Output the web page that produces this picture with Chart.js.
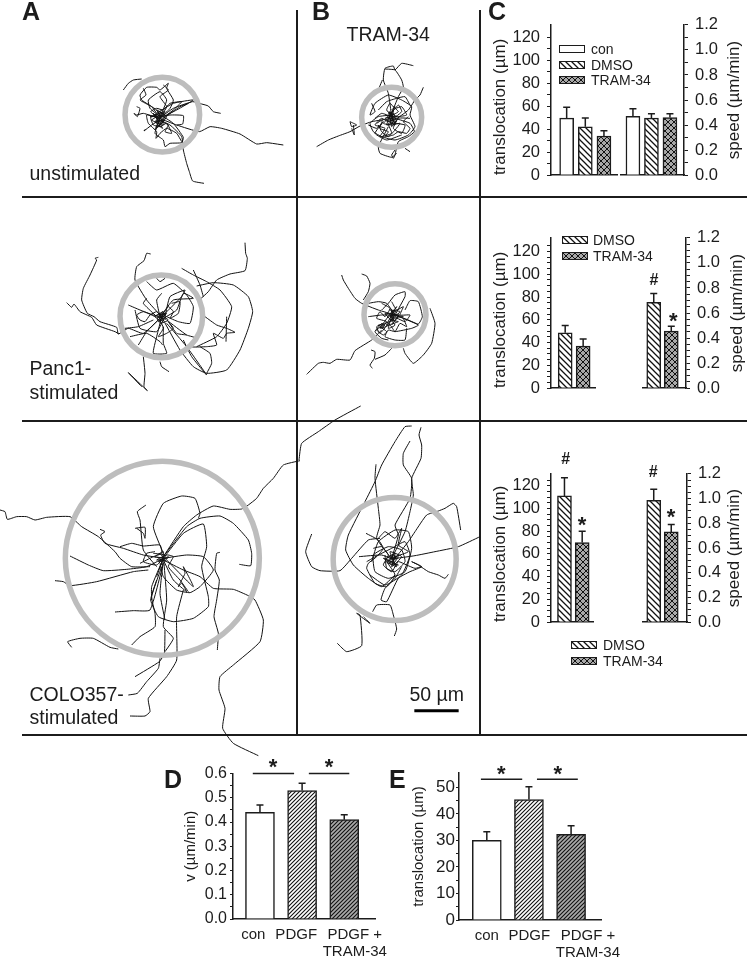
<!DOCTYPE html>
<html>
<head>
<meta charset="utf-8">
<title>Cell tracks and migration</title>
<script src="https://cdn.jsdelivr.net/npm/chart.js@4"></script>
<style>
    html, body { margin: 0; padding: 0; background: #fff; }
    #page { position: relative; width: 747px; height: 960px; overflow: hidden; font-family: "Liberation Sans", Arial, sans-serif; color: #1c1c1c; }
    #page canvas { position: absolute; }
    #page div { position: absolute; white-space: pre; }
    .rule { background: #1c1c1c; }
</style>
</head>
<body>
<div id="page"></div>
<script>
const tracksA1 = [
    [370,270, 385,250, 400,240, 425,237],
    [478,355, 520,325, 578,305, 605,312, 625,318, 640,335, 662,340],
    [478,355, 530,375, 598,395, 630,380, 665,385, 720,402, 770,432, 800,428, 850,435],
    [478,360, 510,375, 545,410, 550,450, 560,490, 568,515, 578,543, 612,550],
    [480,350, 470,330, 425,300, 420,285, 440,262, 470,262, 480,270, 505,250, 500,265, 520,300, 510,325, 480,355],
    [480,350, 500,300, 480,275, 445,300, 450,325, 480,350],
    [478,355, 430,340, 410,345, 402,340, 412,350, 420,325, 410,320],
    [478,360, 455,375, 432,393, 436,388, 432,393],
    [478,360, 465,400, 490,420, 495,440, 510,430, 545,428, 550,412, 520,370, 490,350],
    [480,350, 510,345, 550,347, 548,372, 530,375],
    [470,340, 520,310, 580,300, 530,330, 490,350],
    [490,355, 540,320, 565,310],
    [478,355, 440,345, 445,370, 470,395, 468,415, 480,400, 500,385, 530,400, 545,425],
    [470,350, 452,335, 470,325, 490,330, 510,310, 545,305, 520,330, 500,345],
    [485,365, 505,375, 495,395, 515,400, 500,370, 480,380, 460,375, 452,352, 475,345],
    [465,370, 480,345, 470,330, 495,345, 485,370, 470,355, 490,350, 478,375, 468,345],
    [430,265, 438,285, 420,300, 455,320, 470,340],
    [490,255, 505,270, 480,290, 500,320, 485,345],
    [460,345, 490,340, 465,365, 495,360, 470,380, 485,345, 455,360, 490,375, 475,335, 500,350, 465,390, 480,350, 450,350, 495,335, 470,370, 488,385, 460,340, 482,365]
];
const tracksB1 = [
    [65,440, 100,420, 130,408, 165,395, 195,378, 230,365, 290,355],
    [165,365, 170,380, 185,375, 165,365],
    [175,375, 178,405, 170,385],
    [290,350, 280,280, 265,240, 270,205, 295,198, 300,210, 320,190, 355,197],
    [270,207, 300,210, 320,240, 325,262, 310,290, 290,340],
    [262,240, 253,262],
    [385,262, 375,285, 360,300, 340,330, 300,360],
    [300,355, 345,370, 358,395, 340,410, 310,425, 300,465, 295,475, 290,465, 300,450],
    [280,380, 250,440, 255,460, 290,472, 305,460],
    [330,445, 345,455],
    [230,310, 240,335, 225,345, 240,310, 280,285, 320,300, 350,320, 345,345, 360,380, 340,405, 300,420, 260,410, 235,395, 225,370, 250,350, 290,345],
    [290,330, 300,320, 285,345, 310,315, 320,335, 280,365, 260,355, 240,375, 270,385, 255,410, 290,400, 280,370, 330,375, 320,400, 295,385, 310,355, 345,355],
    [245,370, 262,360, 255,385, 280,395, 270,410, 295,405, 310,395, 335,400, 345,385, 325,365, 340,350],
    [295,320, 310,335, 290,345, 275,330, 285,310, 300,325, 320,320, 335,345, 310,350],
    [240,355, 260,340, 285,350, 265,370, 290,375, 315,370, 300,390, 280,410, 260,395, 250,375],
    [280,345, 300,355, 285,365, 295,340, 275,352, 305,348, 288,372, 282,335, 298,368],
    [250,330, 275,305, 305,295, 330,290, 345,315],
    [220,375, 245,385, 265,365, 240,400, 275,420, 320,405],
    [280,340, 300,345, 285,360, 305,365, 275,375, 295,330, 290,380, 310,350, 270,355, 300,375, 285,335, 295,360]
];
const tracksA2 = [
    [295,172, 285,175, 290,180, 270,225, 250,265, 245,300, 262,340, 282,350, 300,365, 350,382, 355,402, 385,385, 430,400, 485,350],
    [200,308, 215,322, 222,312, 240,335, 275,352, 290,375, 345,395, 357,402],
    [452,162, 440,160, 432,182, 410,200, 405,240, 440,300, 485,350],
    [735,128, 737,160, 742,175, 735,212, 690,222, 650,240, 625,275, 600,298],
    [545,205, 580,225, 620,245, 660,270, 695,320, 680,370, 650,410, 590,440],
    [580,210, 600,255, 610,290],
    [590,258, 640,248, 700,255, 745,290, 758,335, 745,385, 720,450, 680,510, 620,520, 580,500, 540,450, 490,360],
    [680,350, 678,425],
    [615,350, 650,375, 680,385, 705,397, 680,400, 670,415, 640,400, 650,435, 620,440, 570,440, 590,415, 560,405, 500,360],
    [500,370, 560,440, 620,525, 575,470, 550,420],
    [600,440, 630,460, 635,490, 620,520],
    [480,485, 485,500, 507,515],
    [430,470, 435,520, 432,560, 442,572, 385,518, 425,560],
    [485,350, 470,410, 460,460, 500,460, 490,430, 490,380],
    [385,315, 420,330, 460,345, 485,350],
    [485,350, 545,290, 555,270, 510,290, 495,350],
    [485,345, 520,300, 580,295, 550,280, 530,330, 490,355],
    [440,245, 470,270, 520,250, 560,285, 580,320, 570,370, 535,365, 500,350],
    [470,235, 480,245, 495,235],
    [405,330, 420,385, 470,395, 490,360],
    [375,385, 415,380, 460,360],
    [485,350, 440,395, 415,435],
    [390,410, 440,400, 480,425, 488,435],
    [485,280, 470,300, 480,350],
    [440,295, 430,310, 465,345],
    [485,350, 470,335, 450,345, 435,365, 420,360, 410,345, 430,335, 465,350, 480,365],
    [490,340, 505,320, 520,335, 510,355, 535,340, 540,305, 515,310],
    [480,360, 490,385, 475,410, 500,400, 520,385, 505,365, 530,400, 560,405],
    [482,352, 495,345, 478,342, 490,360, 472,358, 488,335, 498,358, 470,348],
    [470,345, 500,340, 475,365, 495,355, 465,350, 490,335, 480,370, 505,360, 475,340, 492,350]
];
const tracksB2 = [
    [140,225, 145,240, 160,265, 180,295, 200,310, 250,330, 300,345],
    [200,222, 215,228, 225,250, 220,275, 205,300],
    [35,523, 70,490, 85,487, 105,490, 125,478, 165,480, 180,452, 230,420, 260,390],
    [232,505, 225,495, 238,475, 240,455, 228,450],
    [240,478, 270,465, 290,445],
    [325,445, 330,460, 355,490, 385,465, 410,430, 420,370, 405,325],
    [300,345, 330,290, 330,275, 300,285, 280,310, 260,330],
    [330,330, 345,302, 370,305, 382,350, 370,372, 340,360, 300,345],
    [300,345, 370,375, 350,385, 300,395, 280,390, 270,410, 300,420, 330,420, 335,385],
    [220,310, 250,305, 275,310, 300,345],
    [220,350, 260,345, 300,345],
    [260,370, 240,395, 260,415, 280,420],
    [300,345, 255,400, 245,380, 265,370],
    [260,310, 285,325, 270,350, 255,335, 245,355, 275,365, 260,385, 285,375, 300,395, 315,370, 335,380, 325,355],
    [290,305, 305,330, 325,320, 315,345, 345,345, 330,365, 305,355, 290,375],
    [255,380, 275,395, 265,405, 245,390, 270,370, 295,360, 280,345],
    [295,340, 310,350, 292,358, 302,332, 285,348, 312,342, 298,365, 288,328],
    [285,330, 315,335, 290,360, 310,365, 275,375, 305,320, 285,350, 325,350, 270,340, 300,375, 280,385, 295,330, 255,385, 270,375, 250,375]
];
const tracksA3 = [
    [0,270, 15,275, 22,298, 50,290, 80,290, 105,300, 140,292, 210,290, 245,320, 295,350, 345,395, 360,415, 395,440, 450,440],
    [900,122, 850,135, 820,175, 790,205, 770,235, 745,255, 725,267, 690,268, 640,258, 590,285, 550,320, 490,410],
    [490,410, 560,320, 600,295, 660,288, 700,310, 745,360, 755,400, 752,437, 718,433],
    [490,400, 460,320, 490,250, 545,228, 585,235, 600,280, 595,295],
    [438,255, 412,275, 420,300, 430,390, 470,440],
    [300,328, 315,335, 302,345, 315,370, 370,385, 430,405, 490,415],
    [210,408, 265,435, 310,452, 380,448, 440,440, 490,415],
    [165,482, 190,485, 210,497, 290,485, 400,455, 445,450],
    [345,576, 400,572, 450,570, 490,430],
    [490,415, 550,340, 610,312, 620,380, 605,440, 625,530, 625,560, 580,595, 520,605, 475,590, 452,540, 470,480],
    [660,397, 650,400, 645,450, 658,480, 650,540, 642,590, 655,640, 652,690],
    [490,420, 550,450, 600,470, 640,505, 700,508, 745,527, 765,540, 790,600, 780,665, 700,735, 660,770, 657,810, 675,865, 668,925, 700,970, 775,1007],
    [395,675, 420,650, 465,620, 465,580, 455,530, 485,440],
    [492,430, 500,540, 490,620, 520,655, 495,695],
    [495,630, 493,700, 478,725, 405,770],
    [215,682, 203,665, 240,655, 280,655, 330,682, 355,687],
    [550,510, 530,590, 530,720, 500,770, 445,835, 450,875, 435,888, 390,888],
    [480,715, 475,745, 440,785, 412,820, 385,825],
    [490,415, 560,405, 610,410, 640,450, 600,500, 570,518, 530,510, 490,470, 480,430],
    [490,420, 520,480, 560,515, 545,490, 535,500, 555,460, 550,440, 580,500, 500,420],
    [405,325, 435,322, 435,355, 430,340, 410,325],
    [360,380, 395,370, 430,378, 480,375, 485,400, 460,410, 420,430],
    [490,415, 455,500, 455,540],
    [470,470, 490,415, 480,520, 495,600],
    [465,395, 440,400, 430,425, 470,435, 500,405, 520,410, 505,440, 540,480, 565,515],
    [460,400, 495,405, 470,420, 500,415, 465,410, 490,395, 485,435, 505,410, 475,425, 495,420, 480,400]
];
const tracksB3 = [
    [197,93, 120,135, 70,170, 20,205, 12,255],
    [350,153, 330,155, 300,200, 260,270, 240,320, 210,380, 160,480, 152,525, 175,570, 220,610, 260,635, 300,600],
    [378,157, 372,180, 380,210, 378,250, 350,310, 355,360, 345,410, 330,470, 290,550],
    [345,198, 325,235, 325,270, 350,310, 345,370, 300,450, 310,480, 290,550],
    [243,268, 240,310, 250,400, 255,450, 245,490, 290,552],
    [50,477, 32,530, 50,575, 75,587, 135,587, 170,550, 220,495, 255,490],
    [555,485, 490,515, 420,530, 360,542, 290,552],
    [497,465, 485,395, 475,385, 450,400, 430,408, 395,420, 360,470, 340,500, 300,550],
    [460,598, 450,610, 430,600, 400,590, 370,570, 350,560, 380,575, 345,590, 310,610, 275,680, 258,675, 270,640, 300,610, 320,575],
    [192,545, 260,540, 290,552],
    [213,475, 250,495, 265,520, 245,545, 220,565, 215,580, 240,625, 275,635, 300,600, 275,560],
    [298,783, 305,762, 295,720, 285,690, 245,690, 233,710],
    [127,805, 155,830, 200,812, 195,720, 185,715, 225,745, 205,725],
    [230,560, 250,500, 300,465, 340,470, 350,520, 330,590, 280,610, 240,590, 235,540, 280,515, 320,525, 330,560, 300,590, 275,580, 270,540],
    [215,560, 250,540, 290,520, 330,500, 345,540, 320,600, 270,630, 225,600],
    [250,490, 270,470, 300,490, 320,460, 310,510, 340,530, 300,545],
    [235,520, 260,515, 280,540, 265,570, 290,590, 310,560, 335,570, 360,580, 380,575],
    [280,555, 300,540, 292,570, 310,545, 275,560, 305,575, 285,540],
    [275,545, 305,550, 280,565, 310,570, 270,555, 300,535, 290,575, 320,545, 285,530, 295,560, 265,550, 300,565]
];

// panel C, upper row
const legendTop = ['con', 'DMSO', 'TRAM-34'];
const legendBoth = ['DMSO', 'TRAM-34'];
const topTransl = [49.5, 42, 34];
const topTranslErr = [9.5, 7.6, 4.6];
const topSpeed = [0.47, 0.455, 0.46];
const topSpeedErr = [0.06, 0.035, 0.03];
// panel C, middle row
const midTransl = [48.6, 36.8];
const midTranslErr = [6.3, 6.3];
const midSpeed = [0.685, 0.455];
const midSpeedErr = [0.07, 0.04];
// panel C, lower row
const lowTransl = [111, 70];
const lowTranslErr = [16, 10];
const lowSpeed = [0.985, 0.73];
const lowSpeedErr = [0.09, 0.06];
// panels D and E
const groupLabels = [['con'], ['PDGF'], ['PDGF +', 'TRAM-34']];
const speedD = [0.44, 0.53, 0.41];
const speedDErr = [0.03, 0.03, 0.02];
const translE = [30, 45.4, 32.3];
const translEErr = [3.3, 4.8, 3.2];

const ink = '#1c1c1c';
Chart.defaults.font.family = '"Liberation Sans", Arial, sans-serif';
Chart.defaults.color = ink;
Chart.defaults.animation = false;

const page = document.getElementById('page');

function addRule(x, y, w, h) {
    const d = document.createElement('div');
    d.className = 'rule';
    d.style.cssText = `left:${x}px;top:${y}px;width:${w}px;height:${h}px`;
    page.appendChild(d);
}

// y is the text baseline
function addText(text, x, y, size, weight, center) {
    const d = document.createElement('div');
    d.textContent = text;
    d.style.cssText = `left:${x}px;top:${y - 0.3465 * size}px;font-size:${size}px;line-height:0;font-weight:${weight || 'normal'};z-index:5;`
        + (center ? 'transform:translateX(-50%);' : '');
    page.appendChild(d);
}

function addUpText(text, cx, cy, size) {
    const d = document.createElement('div');
    d.textContent = text;
    d.style.cssText = `left:${cx}px;top:${cy}px;font-size:${size}px;transform:translate(-50%,-50%) rotate(-90deg);z-index:5;`;
    page.appendChild(d);
}

function makeTile(size, bg, slash, backslash, width) {
    const c = document.createElement('canvas');
    c.width = c.height = size;
    const g = c.getContext('2d');
    g.fillStyle = bg;
    g.fillRect(0, 0, size, size);
    g.strokeStyle = '#111';
    g.lineWidth = width;
    g.beginPath();
    if (backslash) {
        g.moveTo(-size, 0); g.lineTo(size, size * 2);
        g.moveTo(0, -size); g.lineTo(size * 2, size);
        g.moveTo(0, 0); g.lineTo(size, size);
    }
    if (slash) {
        g.moveTo(0, size); g.lineTo(size, 0);
        g.moveTo(-size, size); g.lineTo(size, -size);
        g.moveTo(0, size * 2); g.lineTo(size * 2, 0);
    }
    g.stroke();
    return c;
}

const tiles = {
    dmso: makeTile(6, '#fff', false, true, 1.3),
    tram: makeTile(6, '#a8a8a8', true, true, 1),
    pdgf: makeTile(4, '#fff', true, false, 1.1),
    pdgfTram: makeTile(4, '#aaa', true, false, 1.1)
};
const fill = {};
Object.keys(tiles).forEach(k => { fill[k] = document.createElement('canvas').getContext('2d').createPattern(tiles[k], 'repeat'); });

function addLegend(names, x, yTops, textX) {
    names.forEach((name, i) => {
        const box = document.createElement('div');
        const tile = name === 'DMSO' ? tiles.dmso : name === 'TRAM-34' ? tiles.tram : null;
        box.style.cssText = `left:${x}px;top:${yTops[i]}px;width:24px;height:6px;border:1.5px solid ${ink};background:#fff;`
            + (tile ? `background-image:url(${tile.toDataURL()});` : '');
        page.appendChild(box);
        addText(name, textX, yTops[i] + 9, 14);
    });
}

function trackChart(tracks, rect, ring, extra) {
    const c = document.createElement('canvas');
    c.width = rect.w;
    c.height = rect.h;
    c.style.left = rect.x + 'px';
    c.style.top = rect.y + 'px';
    page.appendChild(c);
    const datasets = [{
        // the grey ring lies over the tracks
        data: [{ x: ring.x, y: ring.y }],
        pointRadius: ring.r,
        pointBackgroundColor: 'rgba(0,0,0,0)',
        pointBorderColor: '#bdbdbd',
        pointBorderWidth: 5.5,
        showLine: false,
        clip: false
    }];
    if (extra) datasets.push(extra);
    tracks.forEach(t => {
        const pts = [];
        for (let i = 0; i < t.length; i += 2) pts.push({ x: t[i], y: t[i + 1] });
        datasets.push({ data: pts, showLine: true, pointRadius: 0, borderColor: '#111', borderWidth: 1, tension: 0.15 });
    });
    new Chart(c, {
        type: 'scatter',
        data: { datasets },
        options: {
            responsive: false,
            layout: { padding: 0, autoPadding: false },
            plugins: { legend: { display: false }, tooltip: { enabled: false } },
            scales: {
                x: { display: false, min: 0, max: rect.w * 3 },
                y: { display: false, min: 0, max: rect.h * 3, reverse: true }
            }
        }
    });
}

function errorBars(values, errors) {
    return {
        id: 'errorBars',
        beforeDatasetsDraw(chart) {
            const g = chart.ctx;
            g.save();
            g.strokeStyle = ink;
            g.lineWidth = 1.5;
            values.forEach((v, i) => {
                const px = chart.scales.x.getPixelForValue(i + 1);
                const y1 = chart.scales.y.getPixelForValue(v);
                const y2 = chart.scales.y.getPixelForValue(v + errors[i]);
                g.beginPath();
                g.moveTo(px, y1); g.lineTo(px, y2);
                g.moveTo(px - 3.5, y2); g.lineTo(px + 3.5, y2);
                g.stroke();
            });
            g.restore();
        }
    };
}

function barChart(o) {
    const axisW = o.axisWidth;
    const onRight = o.side === 'right';
    const mL = onRight ? 0 : axisW;
    // labels under the last bar can hang out past the axis end
    const mR = onRight ? axisW : (o.tickSpots ? 60 : 22);
    const mT = 12;
    const mB = o.bottom || 12;
    const c = document.createElement('canvas');
    c.width = o.x1 - o.x0 + mL + mR;
    c.height = o.yBot - o.yTop + mT + mB;
    c.style.left = (o.x0 - mL) + 'px';
    c.style.top = (o.yTop - mT) + 'px';
    c.style.zIndex = 3;
    page.appendChild(c);

    const datasets = [{
        data: o.values.map((v, i) => ({ x: i + 1, y: v })),
        backgroundColor: o.fills,
        borderColor: ink,
        borderWidth: 1.5,
        barThickness: o.barWidth,
        order: 2
    }];
    (o.sigLines || []).forEach(s => {
        datasets.push({
            type: 'line',
            data: [{ x: s[0], y: o.sigY }, { x: s[1], y: o.sigY }],
            borderColor: ink,
            borderWidth: 1.5,
            pointRadius: 0,
            clip: false,
            order: 1
        });
    });

    new Chart(c, {
        type: 'bar',
        data: { datasets },
        plugins: [errorBars(o.values, o.errors)],
        options: {
            responsive: false,
            layout: { padding: { top: mT, bottom: o.bottom ? 0 : mB, left: 0, right: onRight ? 0 : mR }, autoPadding: false },
            plugins: { legend: { display: false }, tooltip: { enabled: false } },
            scales: {
                x: {
                    type: 'linear',
                    offset: false,
                    min: o.xMin,
                    max: o.xMax,
                    grid: { display: false, drawTicks: false },
                    border: { display: true, color: ink, width: 1.5 },
                    afterBuildTicks: s => { s.ticks = (o.tickSpots || []).map(v => ({ value: v })); },
                    afterFit: s => { s.height = o.bottom || 0; },
                    ticks: {
                        display: !!o.tickSpots,
                        autoSkip: false,
                        maxRotation: 0,
                        minRotation: 0,
                        padding: 8,
                        font: { size: 15, lineHeight: 1.1 },
                        callback: (v, i) => groupLabels[i]
                    }
                },
                y: {
                    position: onRight ? 'right' : 'left',
                    min: 0,
                    max: o.yMax,
                    grid: { drawOnChartArea: false, drawTicks: true, tickLength: o.tickLength || 4, tickColor: ink, tickWidth: 1 },
                    border: { display: true, color: ink, width: 1.5 },
                    afterBuildTicks: s => {
                        s.ticks = s.ticks.filter(t => Math.abs(t.value / o.step - Math.round(t.value / o.step)) < 1e-6);
                    },
                    afterFit: s => { s.width = axisW; },
                    title: o.title ? {
                        display: true,
                        text: o.title,
                        align: o.titleAlign || 'center',
                        font: { size: o.titleSize },
                        padding: 0
                    } : { display: false },
                    ticks: {
                        stepSize: o.step,
                        autoSkip: false,
                        padding: o.tickPadding,
                        font: { size: o.tickSize },
                        callback: v => {
                            const k = v / o.major;
                            return Math.abs(k - Math.round(k)) < 1e-6 ? v.toFixed(o.decimals) : '';
                        }
                    }
                }
            }
        }
    });
}

// panel rules
addRule(22, 196, 725, 2);
addRule(22, 420, 725, 2);
addRule(22, 734, 725, 2);
addRule(296, 10, 2, 725);
addRule(479, 10, 2, 725);

// tracks, one chart per panel
trackChart(tracksA1, { x: 0, y: 0, w: 300, h: 200 }, { x: 487, y: 344, r: 37.3 });
trackChart(tracksB1, { x: 295, y: 0, w: 190, h: 200 }, { x: 290, y: 352, r: 30 });
trackChart(tracksA2, { x: 0, y: 200, w: 300, h: 220 }, { x: 484, y: 349, r: 41.3 });
trackChart(tracksB2, { x: 295, y: 200, w: 190, h: 220 }, { x: 300, y: 344, r: 31 });
trackChart(tracksA3, { x: 0, y: 420, w: 300, h: 340 }, { x: 487, y: 415, r: 97 });
trackChart(tracksB3, { x: 295, y: 375, w: 190, h: 360 }, { x: 299, y: 552, r: 61.5 }, {
    // 50 um scale bar
    data: [{ x: 358, y: 1007 }, { x: 491, y: 1007 }],
    showLine: true,
    pointRadius: 0,
    borderColor: '#000',
    borderWidth: 3
});

// panel C
const cLeft = { side: 'left', axisWidth: 61, step: 5, major: 20, decimals: 0, tickSize: 16.5, tickPadding: 7, title: 'translocation (µm)', titleSize: 17, titleAlign: 'start' };
const cRight = { side: 'right', axisWidth: 50, step: 0.05, major: 0.2, decimals: 1, tickSize: 16.5, tickPadding: 7, yMax: 1.2 };

barChart({ ...cLeft, step: 10, x0: 551, x1: 617, yTop: 20, yBot: 180, yMax: 130.6, xMin: 0.16, xMax: 3.7, barWidth: 14,
    values: topTransl, errors: topTranslErr, fills: ['#fff', fill.dmso, fill.tram] });
barChart({ ...cRight, step: 0.1, x0: 620, x1: 684, yTop: 20, yBot: 180, xMin: 0.3, xMax: 3.76, barWidth: 14,
    values: topSpeed, errors: topSpeedErr, fills: ['#fff', fill.dmso, fill.tram] });
barChart({ ...cLeft, x0: 551, x1: 595, yTop: 233.3, yBot: 393.3, yMax: 131.9, xMin: 0.21, xMax: 2.66, barWidth: 14,
    values: midTransl, errors: midTranslErr, fills: [fill.dmso, fill.tram] });
barChart({ ...cRight, x0: 642.3, x1: 686.7, yTop: 233.3, yBot: 393.3, xMin: 0.33, xMax: 2.84, barWidth: 14,
    values: midSpeed, errors: midSpeedErr, fills: [fill.dmso, fill.tram] });
barChart({ ...cLeft, x0: 551, x1: 593, yTop: 469, yBot: 627.7, yMax: 130.4, xMin: 0.24, xMax: 2.61, barWidth: 14,
    values: lowTransl, errors: lowTranslErr, fills: [fill.dmso, fill.tram] });
barChart({ ...cRight, x0: 641.7, x1: 686.7, yTop: 469, yBot: 627.7, xMin: 0.33, xMax: 2.9, barWidth: 14,
    values: lowSpeed, errors: lowSpeedErr, fills: [fill.dmso, fill.tram] });

addUpText('speed (µm/min)', 733.5, 100, 17);
addUpText('speed (µm/min)', 736.5, 312.7, 17);
addUpText('speed (µm/min)', 733.5, 548, 17);

addLegend(legendTop, 559, [44.5, 60.5, 76], 591);
addLegend(legendBoth, 562, [236, 252], 593);
addLegend(legendBoth, 571, [641, 657], 603);

// panels D and E
barChart({ side: 'left', axisWidth: 51, bottom: 40, step: 0.05, major: 0.1, decimals: 1, tickSize: 16, tickPadding: 3, tickLength: 3,
    title: 'v (µm/min)', titleSize: 15, x0: 232.7, x1: 375, yTop: 773.3, yBot: 920, yMax: 0.6, xMin: 0.36, xMax: 3.73, barWidth: 29,
    values: speedD, errors: speedDErr, fills: ['#fff', fill.pdgf, fill.pdgfTram], tickSpots: [0.84, 1.86, 3.25],
    sigLines: [[0.83, 1.81], [2.16, 3.12]], sigY: 0.6 });
barChart({ side: 'left', axisWidth: 49, bottom: 39, step: 5, major: 10, decimals: 0, tickSize: 17, tickPadding: 1, tickLength: 3,
    title: 'translocation (µm)', titleSize: 15, x0: 459, x1: 601.7, yTop: 773.3, yBot: 920.7, yMax: 55.4, xMin: 0.34, xMax: 3.71, barWidth: 29,
    values: translE, errors: translEErr, fills: ['#fff', fill.pdgf, fill.pdgfTram], tickSpots: [1, 2.01, 3.4],
    sigLines: [[0.86, 1.84], [2.19, 3.16]], sigY: 53 });

// panel letters and captions
addText('A', 22, 20, 25, 'bold');
addText('B', 312, 20, 25, 'bold');
addText('C', 488, 20, 25, 'bold');
addText('D', 164, 788, 25, 'bold');
addText('E', 389, 788, 25, 'bold');
addText('TRAM-34', 346.5, 40.5, 19.5);
addText('unstimulated', 29.5, 180, 19.5);
addText('Panc1-', 29.5, 375, 19.5);
addText('stimulated', 29.5, 399, 19.5);
addText('COLO357-', 29.5, 701, 19.5);
addText('stimulated', 29.5, 724, 19.5);
addText('50 µm', 409.5, 700.5, 19.5);

// significance marks
[[654, 285.7], [565.7, 464.7], [653.3, 477.4]].forEach(p => addText('#', p[0], p[1], 16, 'bold', true));
[[673.3, 329], [582, 532.5], [671, 525], [273, 775], [329, 775], [501.3, 781.5], [557.7, 781.5]].forEach(p => addText('*', p[0], p[1], 22, 'bold', true));
</script>
</body>
</html>
